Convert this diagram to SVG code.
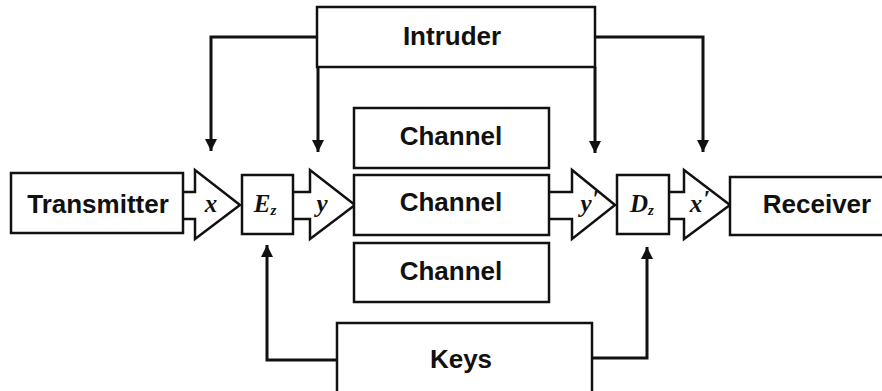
<svg xmlns="http://www.w3.org/2000/svg" width="882" height="391" viewBox="0 0 882 391">
  <style>
    .box { fill: #fff; stroke: #111; stroke-width: 2.5; }
    .blk { fill: #fff; stroke: #111; stroke-width: 2.5; stroke-linejoin: miter; }
    .lbl { font-family: "Liberation Sans", Arial, sans-serif; font-weight: bold; font-size: 26px; fill: #111; text-anchor: middle; }
    .math { font-family: "Liberation Serif", "Times New Roman", serif; font-style: italic; font-weight: bold; font-size: 25px; fill: #111; text-anchor: middle; }
    .sub { font-size: 15px; }
    .prime { font-style: normal; font-size: 24px; }
    .wire { fill: none; stroke: #111; stroke-width: 3; }
  </style>
  <defs>
    <marker id="tip" viewBox="0 0 12 20" refX="12" refY="6" markerWidth="12" markerHeight="20" markerUnits="userSpaceOnUse" orient="auto">
      <path d="M0,0 L20,6 L0,12 Z" fill="#111" transform="scale(0.6,1)"/>
    </marker>
  </defs>
  <rect width="882" height="391" fill="#fff"/>

  <!-- wiring from intruder and keys -->
  <g id="connectors">
    <path class="wire" d="M317,37 H211 V151" marker-end="url(#tip)"/>
    <path class="wire" d="M318,67 V152" marker-end="url(#tip)"/>
    <path class="wire" d="M595,67 V153" marker-end="url(#tip)"/>
    <path class="wire" d="M595,37 H703 V152" marker-end="url(#tip)"/>
    <path class="wire" d="M337,360 H267 V245" marker-end="url(#tip)"/>
    <path class="wire" d="M592,358 H647 V247" marker-end="url(#tip)"/>
  </g>

  <!-- block arrows along the main line -->
  <g id="arrow-x">
    <path class="blk" d="M183,192 H195 V170 L240,205 L195,239 V219 H183"/>
    <text class="math" x="211" y="212">x</text>
  </g>
  <g id="arrow-y">
    <path class="blk" d="M293,192 H310 V170 L355,205 L310,239 V219 H293"/>
    <text class="math" x="322" y="212">y</text>
  </g>
  <g id="arrow-y-prime">
    <path class="blk" d="M548,192 H572 V170 L615,205 L572,239 V219 H548"/>
    <text class="math" x="586" y="212">y</text>
    <text class="math prime" x="596" y="206">′</text>
  </g>
  <g id="arrow-x-prime">
    <path class="blk" d="M669,192 H684 V170 L730,205 L684,239 V219 H669"/>
    <text class="math" x="696" y="212">x</text>
    <text class="math prime" x="707" y="206">′</text>
  </g>

  <g id="transmitter">
    <rect class="box" x="11" y="173" width="172" height="60"/>
    <text class="lbl" x="98" y="213">Transmitter</text>
  </g>
  <g id="encoder">
    <rect class="box" x="242" y="175" width="51" height="59"/>
    <text class="math" x="265" y="212">E<tspan class="sub" dx="0" dy="3">z</tspan></text>
  </g>
  <g id="channel-top">
    <rect class="box" x="354" y="108" width="195" height="60"/>
    <text class="lbl" x="451" y="145">Channel</text>
  </g>
  <g id="channel-mid">
    <rect class="box" x="354" y="175" width="195" height="60"/>
    <text class="lbl" x="451" y="211">Channel</text>
  </g>
  <g id="channel-bottom">
    <rect class="box" x="354" y="243" width="195" height="59"/>
    <text class="lbl" x="451" y="280">Channel</text>
  </g>
  <g id="decoder">
    <rect class="box" x="617" y="175" width="52" height="59"/>
    <text class="math" x="642" y="212">D<tspan class="sub" dx="0" dy="3">z</tspan></text>
  </g>
  <g id="receiver">
    <rect class="box" x="730" y="177" width="170" height="58"/>
    <text class="lbl" x="817" y="213">Receiver</text>
  </g>
  <g id="intruder">
    <rect class="box" x="317" y="7" width="278" height="60"/>
    <text class="lbl" x="452" y="45">Intruder</text>
  </g>
  <g id="keys">
    <rect class="box" x="337" y="323" width="255" height="80"/>
    <text class="lbl" x="461" y="368">Keys</text>
  </g>
</svg>
